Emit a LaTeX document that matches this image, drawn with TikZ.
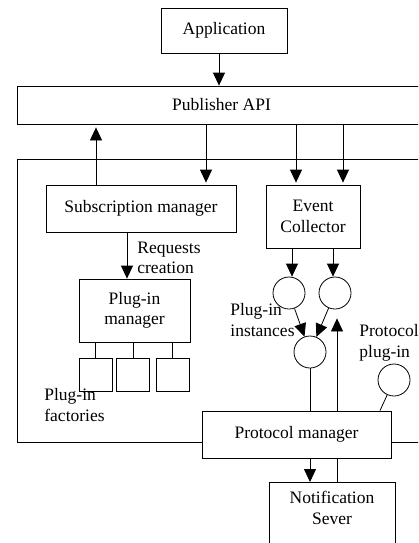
\documentclass[tikz,border=0pt]{standalone}
\usepackage{fontspec}
\setmainfont{Liberation Serif}
\usetikzlibrary{arrows.meta}
\tikzset{
  box/.style={draw, fill=white, inner sep=0pt, align=center},
  circ/.style={draw, fill=white, circle, minimum size=32pt, inner sep=0pt},
  lbl/.style={inner sep=0pt, align=left, anchor=west},
  arr/.style={-{Triangle[length=13pt,width=12pt]}}
}
\begin{document}
\begin{tikzpicture}[x=1pt,y=-1pt, line width=0.8pt, font=\fontsize{17.5}{20.5}\selectfont]
\useasboundingbox (0,0) rectangle (418,543);
\clip (0,0) rectangle (418,543);
\node[draw, minimum width=433pt, minimum height=283pt, anchor=north west, inner sep=0pt] (outer) at (17,159) {};
\node[box, minimum width=126pt, minimum height=45pt] (app) at (224,30.5) {Application};
\node[box, minimum width=409pt, minimum height=38pt] (pub) at (221.5,105) {Publisher API};
\node[box, minimum width=190pt, minimum height=47pt] (sub) at (141,208.5) {Subscription manager};
\node[box, minimum width=94pt, minimum height=63pt] (ev) at (313,216.5) {Event\\Collector};
\node[box, minimum width=111pt, minimum height=63pt] (plugman) at (134.5,310.5) {Plug-in\\manager};
\node[box, minimum width=33pt, minimum height=33pt] (f1) at (95.5,374.5) {};
\node[box, minimum width=33pt, minimum height=33pt] (f2) at (133,374.5) {};
\node[box, minimum width=33pt, minimum height=33pt] (f3) at (172.5,374.5) {};
\node[circ] (c1) at (289,293) {};
\node[circ] (c2) at (335,293) {};
\node[circ] (c3) at (310,352) {};
\node[circ] (c4) at (394,380) {};
\node[box, minimum width=189pt, minimum height=47pt] (pm) at (296.5,434.5) {Protocol manager};
\node[box, minimum width=126pt, minimum height=100pt, anchor=north] (notif) at (332,482) {};
\node[inner sep=0pt, align=center] (notiflbl) at (332,508) {Notification\\Sever};
\node[lbl] (reqlbl) at (137,258) {Requests\\creation};
\node[lbl] (instlbl) at (230,320) {Plug-in\\instances};
\node[lbl] (protlbl) at (359,343) {Protocol\\plug-in};
\node[lbl] (factlbl) at (44,405) {Plug-in\\factories};
% connectors
\draw[arr] (app.south -| 219,0) -- (pub.north -| 219,0);
\draw[arr] (sub.north -| 96,0) -- ([yshift=-3pt]pub.south -| 96,0);
\draw[arr] (pub.south -| 206,0) -- ([yshift=2pt]sub.north -| 206,0);
\draw[arr] (pub.south -| 296,0) -- ([yshift=2pt]ev.north -| 296,0);
\draw[arr] (pub.south -| 343,0) -- ([yshift=2pt]ev.north -| 343,0);
\draw[arr] (sub.south -| 127,0) -- (plugman.north -| 127,0);
\draw (plugman.south -| f1.north) -- (f1.north);
\draw (plugman.south -| f2.north) -- (f2.north);
\draw (plugman.south -| f3.north) -- (f3.north);
\draw[arr] (ev.south -| 292,0) -- (c1.north -| 292,0);
\draw[arr] (ev.south -| 333,0) -- (c2.north -| 333,0);
\draw[arr] (c1) -- (c3);
\draw[arr] (c2) -- (c3);
\draw (c3.south) -- (pm.north -| c3.south);
\draw[arr] (pm.south -| c3.south) -- (notif.north -| c3.south);
\draw (notif.north -| 337,0) -- (pm.south -| 337,0);
\draw[arr] (pm.north -| 337,0) -- ([yshift=-9pt]c2.south -| 337,0);
\draw (c4) -- (pm.north -| 380,0);
\end{tikzpicture}
\end{document}
